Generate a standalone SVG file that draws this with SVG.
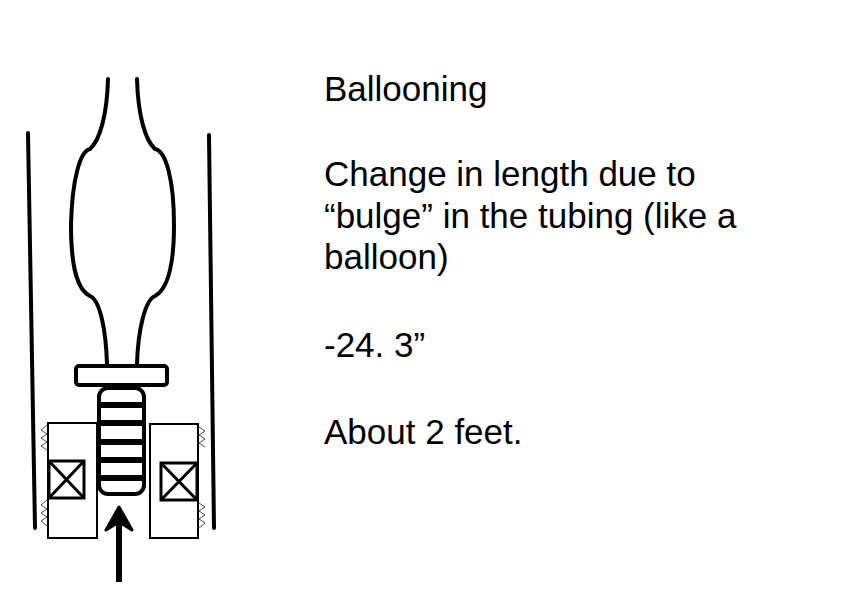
<svg xmlns="http://www.w3.org/2000/svg" width="862" height="602" viewBox="0 0 862 602">
<style>
.s{fill:none;stroke:#000;stroke-width:4;stroke-linecap:round;stroke-linejoin:round}
.b{fill:#fff;stroke:#000;stroke-width:2}
.h{fill:none;stroke:#000;stroke-width:0.7}
text{font-family:"Liberation Sans",Arial,sans-serif;font-size:35px;fill:#000}
</style>
<rect width="862" height="602" fill="#fff"/>
<g id="casing">
<path class="s" d="M28 133 L35 528"/>
<path class="s" d="M209 135 L214 528"/>
</g>
<g id="tubing">
<path class="s" d="M108 79 C107 115 100 140 90 149 C80 151 72 180 71 225 C71 270 78 290 90 296 C100 300 106 330 107 364"/>
<path class="s" d="M137 79 C138 115 145 140 155 149 C166 151 174 180 174 225 C174 270 166 290 155 296 C145 300 138 330 137 364"/>
</g>
<g id="plate"><rect x="76" y="366" width="91" height="19" rx="3" fill="#fff" stroke="#000" stroke-width="4"/></g>
<g id="pin">
<rect x="99" y="388" width="45" height="106" rx="9" fill="#fff" stroke="#000" stroke-width="4"/>
<g stroke="#000" stroke-width="6"><line x1="100" y1="405" x2="143" y2="405"/><line x1="100" y1="423" x2="143" y2="423"/><line x1="100" y1="442" x2="143" y2="442"/><line x1="100" y1="460" x2="143" y2="460"/><line x1="100" y1="478" x2="145" y2="478"/></g>
</g>
<g id="packer-left">
<rect class="b" x="48" y="423" width="49" height="115"/>
<rect x="49" y="461" width="35" height="37" fill="#fff" stroke="#000" stroke-width="3"/>
<path d="M49 461 L84 498 M84 461 L49 498" stroke="#000" stroke-width="3"/>
<path class="h" d="M47 425 L41 430 L47 434 L41 438 L47 442 L41 446 L47 450 M47 500 L41 505 L47 509 L41 513 L47 517 L41 521 L47 526"/>
</g>
<g id="packer-right">
<rect class="b" x="150" y="424" width="48" height="114"/>
<rect x="161" y="463" width="36" height="37" fill="#fff" stroke="#000" stroke-width="3"/>
<path d="M161 463 L197 500 M197 463 L161 500" stroke="#000" stroke-width="3"/>
<path class="h" d="M199 427 L205 431 L199 435 L205 439 L199 443 L205 447 M199 503 L205 507 L199 511 L205 515 L199 519 L205 523 L199 528"/>
</g>
<g id="connectors">
<line x1="119" y1="520" x2="119" y2="582" stroke="#000" stroke-width="6"/>
<path d="M119 507 L106 530 L119 522 L132 530 Z" fill="#000" stroke="#000" stroke-width="3" stroke-linejoin="round"/>
</g>
<g id="text">
<text x="324" y="101">Ballooning</text>
<text x="324" y="186">Change in length due to</text>
<text x="324" y="228">“bulge” in the tubing (like a</text>
<text x="324" y="269">balloon)</text>
<text x="324" y="357">-24. 3”</text>
<text x="324" y="444">About 2 feet.</text>
</g>
</svg>
